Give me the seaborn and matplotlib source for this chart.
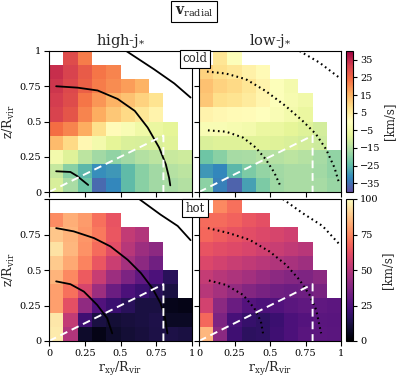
import numpy as np
import pandas as pd
import matplotlib
matplotlib.use("Agg")
import matplotlib.pyplot as plt
import matplotlib.transforms as mtransforms
import seaborn as sns

nan = np.nan

# binned radial velocity maps, rows listed from top (z bin 0.9-1) to bottom
cold_high = [
    [nan, 29.5, 22, nan, nan, nan, nan, nan, nan, nan],
    [34, 31, 27, 23, 21, nan, nan, nan, nan, nan],
    [33, 30, 26, 22, 20, 18, 15, nan, nan, nan],
    [32, 29.5, 23, 19, 15, 13, 10, 7, nan, nan],
    [31, 28, 21, 16, 12, 9, 6, 3, nan, nan],
    [24, 21, 16, 8, 1, -2.5, -5, -6.5, -8, nan],
    [14, 9, 2, -4, -8, -9.5, -10, -9.5, -8.5, nan],
    [-4, -9, -13.5, -17, -19, -17, -15, -13.5, -12, -11.5],
    [-12.5, -20, -25.5, -31, -30, -25, -20, -17, -14.5, -13.5],
    [-10, -16, -23, -36, -32, -25, -20, -17, -16, -15],
]
cold_low = [
    [nan, 6.5, -1, nan, nan, nan, nan, nan, nan, nan],
    [10, 8, 6, 3.5, 1.5, nan, nan, nan, nan, nan],
    [13, 10, 9, 6.5, 3, -1, -3.5, nan, nan, nan],
    [12, 8, 7, 5, 2.5, -1, -3, -4.5, nan, nan],
    [3, 2, 1.5, 1, -0.5, -2, -4, -6.5, nan, nan],
    [-2.5, -2.5, -3, -4, -6, -6.5, -8, -9, -10.5, nan],
    [-9.5, -9, -9, -8.5, -8.5, -9, -9.5, -10.5, -11.5, nan],
    [-23, -20, -16.5, -16, -15, -14.5, -13.5, -14.5, -16.5, -19],
    [-30, -32, -25.5, -21.5, -18.5, -17, -16, -16, -17, -19],
    [-19.5, -33, -37, -28.5, -21.5, -17.5, -16, -16, -16.5, -18],
]
hot_high = [
    [nan, nan, nan, nan, nan, nan, nan, nan, nan, nan],
    [76, 83, 79, 70, 63, nan, nan, nan, nan, nan],
    [88, 84, 78, 72, 64, 53, 49, nan, nan, nan],
    [94, 85, 77, 69, 61, 50, 44, 40, nan, nan],
    [89, 82, 74, 64, 55, 46, 40, 33, nan, nan],
    [84, 75, 65, 54, 44, 36, 29, 24, 16, nan],
    [80, 70, 58, 44, 32, 24, 20, 16, 12, nan],
    [80, 62, 41, 25, 20, 16, 12, 12, 5, 4],
    [95, 53, 21, 12, 10, 11, 12, 13, 7, 7],
    [96, 49, 8, 4, 8, 10, 11, 12.5, 12.5, 12],
]
hot_low = [
    [nan, 75, 70, nan, nan, nan, nan, nan, nan, nan],
    [69, 69, 67, 64, 62, nan, nan, nan, nan, nan],
    [68, 66, 63, 61, 59.5, 58, 56, nan, nan, nan],
    [63, 61, 60, 58.5, 56, 54.5, 52.5, 50.5, nan, nan],
    [59, 57, 54.5, 52.5, 50.5, 48.5, 46.5, 44.5, nan, nan],
    [53.5, 50, 48, 45.5, 42.5, 40, 38, 36.5, 39.5, nan],
    [50, 46, 41.5, 37.5, 35, 33, 32, 32.5, 35, nan],
    [57, 39.5, 31.5, 26, 24, 25, 27.5, 29, 29, 28],
    [68, 36, 23, 19, 17.5, 20, 24, 26, 27.5, 27],
    [85, 39.5, 21, 16.5, 17.5, 21, 24, 27, 28, 27.5],
]

# density contours (r_xy, z) in units of R_vir
tl_outer_x = [0.54, 0.735, 0.876, 0.99]
tl_outer_y = [1.0, 0.87, 0.77, 0.67]
tl_mid_x = [0.05, 0.2, 0.34, 0.48, 0.6, 0.69, 0.77, 0.817, 0.84, 0.848]
tl_mid_y = [0.75, 0.74, 0.72, 0.66, 0.575, 0.457, 0.315, 0.196, 0.1, 0.047]
tl_inner_x = [0.05, 0.15, 0.197, 0.274]
tl_inner_y = [0.147, 0.142, 0.113, 0.05]

tr_outer_x = [0.708, 0.848, 0.989]
tr_outer_y = [1.0, 0.918, 0.81]
tr_mid_x = [0.056, 0.19, 0.33, 0.47, 0.61, 0.73, 0.824, 0.895, 0.954, 0.989]
tr_mid_y = [0.854, 0.84, 0.8, 0.716, 0.61, 0.504, 0.41, 0.303, 0.173, 0.055]
tr_inner_x = [0.063, 0.19, 0.31, 0.40, 0.47, 0.53, 0.57]
tr_inner_y = [0.437, 0.428, 0.386, 0.315, 0.232, 0.138, 0.05]

bl_outer_x = [0.63, 0.78, 0.9, 0.99]
bl_outer_y = [1.0, 0.89, 0.81, 0.71]
bl_mid_x = [0.05, 0.173, 0.314, 0.43, 0.55, 0.643, 0.723, 0.78, 0.81, 0.828]
bl_mid_y = [0.795, 0.772, 0.725, 0.666, 0.572, 0.478, 0.372, 0.266, 0.172, 0.054]
bl_inner_x = [0.05, 0.15, 0.244, 0.337, 0.407, 0.442]
bl_inner_y = [0.42, 0.40, 0.348, 0.254, 0.16, 0.054]

br_outer_x = [0.59, 0.73, 0.87, 0.99]
br_outer_y = [1.0, 0.9, 0.81, 0.68]
br_mid_x = [0.063, 0.21, 0.356, 0.497, 0.614, 0.708, 0.778, 0.825, 0.86]
br_mid_y = [0.795, 0.76, 0.713, 0.63, 0.536, 0.43, 0.325, 0.22, 0.054]
br_inner_x = [0.07, 0.19, 0.31, 0.39, 0.436, 0.453]
br_inner_y = [0.426, 0.395, 0.325, 0.23, 0.137, 0.042]

# disc region outline
disc_x = [0, 0.8, 0.8]
disc_y = [0, 0.4, 0]

tick_vals = [0, 0.25, 0.5, 0.75, 1]
tick_labels = ['0', '0.25', '0.5', '0.75', '1']
cold_ticks = [-35, -25, -15, -5, 5, 15, 25, 35]
hot_ticks = [0, 25, 50, 75, 100]

sns.set_style("ticks")
plt.rcParams['font.family'] = ['DejaVu Serif']
plt.rcParams['mathtext.fontset'] = 'dejavuserif'
plt.rcParams['axes.edgecolor'] = 'black'
plt.rcParams['xtick.color'] = 'black'
plt.rcParams['ytick.color'] = 'black'
plt.rcParams['xtick.major.size'] = 3.5
plt.rcParams['ytick.major.size'] = 3.5

fig = plt.figure(figsize=(3.99, 3.79), dpi=100)
W, H = 399, 379


def px_axes(x0, y0, x1, y1):
    return fig.add_axes([x0 / W, 1 - y1 / H, (x1 - x0) / W, (y1 - y0) / H])


ax_tl = px_axes(49, 51, 192, 192)
ax_tr = px_axes(199, 51, 341, 192)
ax_bl = px_axes(49, 199, 192, 341)
ax_br = px_axes(199, 199, 341, 341)
cax_top = px_axes(346, 51, 353, 192)
cax_bot = px_axes(346, 199, 353, 341)

panels = [
    (ax_tl, cold_high, 'Spectral_r', -40, 40, cax_top, cold_ticks, '-',
     [(tl_outer_x, tl_outer_y), (tl_mid_x, tl_mid_y), (tl_inner_x, tl_inner_y)]),
    (ax_tr, cold_low, 'Spectral_r', -40, 40, cax_top, cold_ticks, ':',
     [(tr_outer_x, tr_outer_y), (tr_mid_x, tr_mid_y), (tr_inner_x, tr_inner_y)]),
    (ax_bl, hot_high, 'magma', 0, 100, cax_bot, hot_ticks, '-',
     [(bl_outer_x, bl_outer_y), (bl_mid_x, bl_mid_y), (bl_inner_x, bl_inner_y)]),
    (ax_br, hot_low, 'magma', 0, 100, cax_bot, hot_ticks, ':',
     [(br_outer_x, br_outer_y), (br_mid_x, br_mid_y), (br_inner_x, br_inner_y)]),
]

for ax, grid, cmap, vmin, vmax, cax, cticks, ls, curves in panels:
    df = pd.DataFrame(grid[::-1])
    nrow, ncol = df.shape
    sns.heatmap(df, ax=ax, cmap=cmap, vmin=vmin, vmax=vmax, cbar_ax=cax,
                xticklabels=False, yticklabels=False,
                cbar_kws={'ticks': cticks})
    ax.invert_yaxis()
    for sp in ax.spines.values():
        sp.set_visible(True)
        sp.set_linewidth(0.8)
    # lines are given in R_vir units, map them onto the cell grid
    to_cells = mtransforms.Affine2D().scale(ncol, nrow) + ax.transData
    for cx, cy in curves:
        if ls == '-':
            ax.plot(cx, cy, color='black', lw=1.3, transform=to_cells)
        else:
            ax.plot(cx, cy, color='black', lw=1.5, ls=(0, (0.8, 1.6)),
                    transform=to_cells)
    ax.plot(disc_x, disc_y, color='white', lw=1.4, ls=(0, (4, 2.5)),
            transform=to_cells)
    ax.set_xticks([t * ncol for t in tick_vals])
    ax.set_yticks([t * nrow for t in tick_vals])
    ax.set_xticklabels([])
    ax.set_yticklabels([])
    ax.tick_params(labelsize=7, length=3.5, width=0.8, pad=2)
    ax.set_xlabel('')
    ax.set_ylabel('')

    cb = ax.collections[0].colorbar
    cb.outline.set_visible(True)
    cb.outline.set_linewidth(0.8)
    cb.outline.set_edgecolor('black')
    cb.ax.tick_params(labelsize=7, length=3, width=0.8, pad=2)
    cb.set_label('[km/s]', fontsize=8.5, labelpad=2)

ax_tl.set_yticklabels(tick_labels)
ax_bl.set_yticklabels(tick_labels[:-1] + [''])
ax_bl.set_xticklabels(tick_labels)
ax_br.set_xticklabels(tick_labels)

for ax in (ax_tl, ax_bl):
    ax.set_ylabel(r'$\mathrm{z/R_{vir}}$', fontsize=9, labelpad=2)
for ax in (ax_bl, ax_br):
    ax.set_xlabel(r'$\mathrm{r_{xy}/R_{vir}}$', fontsize=9, labelpad=2)

ax_tl.set_title(r'high-j$_\mathrm{*}$', fontsize=10.5, pad=4)
ax_tr.set_title(r'low-j$_\mathrm{*}$', fontsize=10.5, pad=4)

box = dict(boxstyle='square,pad=0.25', fc='white', ec='black', lw=0.8)
fig.text(195 / W, 1 - 59 / H, 'cold', fontsize=8.5, ha='center', va='center', bbox=box)
fig.text(195 / W, 1 - 208 / H, 'hot', fontsize=8.5, ha='center', va='center', bbox=box)
fig.text(194 / W, 1 - 11.5 / H, r'$\mathbf{v}_{\mathrm{radial}}$', fontsize=10,
         ha='center', va='center', bbox=box)

fig.savefig('out.png', dpi=100)
